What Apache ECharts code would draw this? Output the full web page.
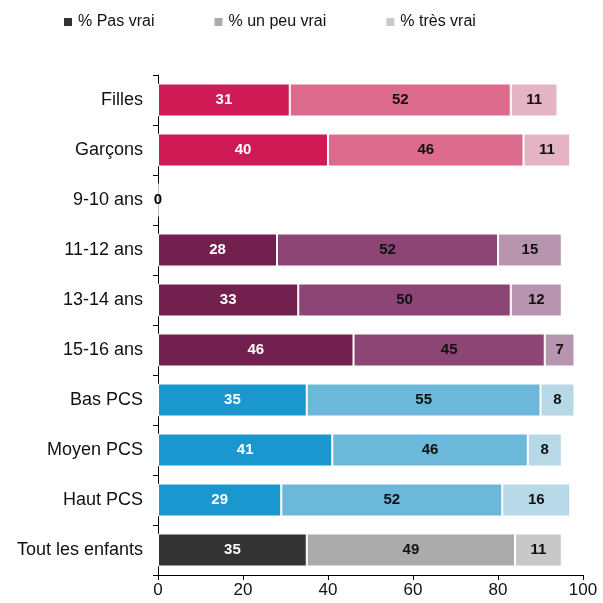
<!DOCTYPE html>
<html lang="fr">
<head>
  <meta charset="UTF-8">
  <title>Chart</title>
  <script src="https://cdn.jsdelivr.net/npm/echarts@6/dist/echarts.min.js"></script>
  <style>
    html, body { margin: 0; padding: 0; background: #fff; }
    #main { width: 603px; height: 603px; }
  </style>
</head>
<body>
  <div id="main"></div>
<script>
// données
let categories = ['Filles', 'Garçons', '9-10 ans', '11-12 ans', '13-14 ans', '15-16 ans', 'Bas PCS', 'Moyen PCS', 'Haut PCS', 'Tout les enfants'];
let seriesNames = ['% Pas vrai', '% un peu vrai', '% très vrai'];
let pasVrai = [31, 40, 0, 28, 33, 46, 35, 41, 29, 35];
let unPeuVrai = [52, 46, null, 52, 50, 45, 55, 46, 52, 49];
let tresVrai = [11, 11, null, 15, 12, 7, 8, 8, 16, 11];
let xTicks = [0, 20, 40, 60, 80, 100];

// couleurs par groupe : [foncé, moyen, clair]
let groupOf = [0, 0, 1, 1, 1, 1, 2, 2, 2, 3];
let palettes = [
  ['#CE1B56', '#DD6B8D', '#E4B4C4'],
  ['#72204D', '#8D4576', '#B795AF'],
  ['#1A97CF', '#6CB8DA', '#B7D8E7'],
  ['#333333', '#ABABAB', '#C8C8C8']
];

function buildData(values, s) {
  return values.map(function (v, i) {
    let item = { value: v, itemStyle: { color: palettes[groupOf[i]][s] } };
    if (v === 0) item.label = { color: '#000' };
    return item;
  });
}

let allValues = [pasVrai, unPeuVrai, tresVrai];
let series = allValues.map(function (vals, s) {
  return {
    name: seriesNames[s],
    type: 'bar',
    stack: 'total',
    barWidth: '66%',
    itemStyle: { color: palettes[3][s], borderColor: '#fff', borderWidth: 1 },
    label: {
      show: true,
      position: 'inside',
      color: s === 0 ? '#fff' : '#111',
      fontWeight: 'bold',
      fontSize: 15,
      fontFamily: 'Liberation Sans, Arial, sans-serif'
    },
    data: buildData(vals, s)
  };
});

let myChart = echarts.init(document.getElementById('main'));
myChart.setOption({
  animation: false,
  textStyle: { fontFamily: 'Liberation Sans, Arial, sans-serif' },
  legend: {
    top: 9,
    left: 57,
    icon: 'rect',
    itemWidth: 10,
    itemHeight: 10,
    itemGap: 58,
    textStyle: { fontSize: 16, color: '#111' },
    data: seriesNames
  },
  grid: { left: 158, right: 20, top: 75, bottom: 28, containLabel: false },
  xAxis: {
    type: 'value',
    min: xTicks[0],
    max: xTicks[xTicks.length - 1],
    interval: 20,
    axisLine: { show: true, lineStyle: { color: '#000' } },
    axisTick: { show: true, length: 5, lineStyle: { color: '#000' } },
    axisLabel: { fontSize: 17, color: '#111', margin: 7 },
    splitLine: { show: false }
  },
  yAxis: {
    type: 'category',
    inverse: true,
    data: categories,
    axisLine: { show: true, lineStyle: { color: '#000' } },
    axisTick: { show: true, length: 5, lineStyle: { color: '#000' } },
    axisLabel: { fontSize: 18, color: '#111', margin: 15 }
  },
  series: series
});
</script>
</body>
</html>
